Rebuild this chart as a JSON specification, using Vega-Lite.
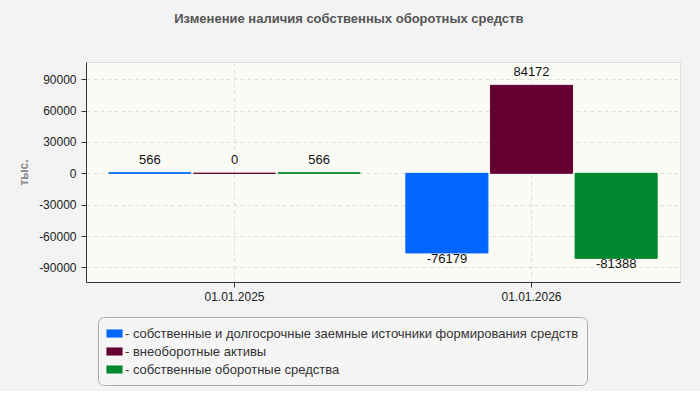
{
  "$schema": "https://vega.github.io/schema/vega-lite/v6.json",
  "width": 594,
  "height": 220,
  "padding": {"left": 17, "top": 13, "right": 20, "bottom": 5},
  "background": "#f3f3f3",
  "title": {
    "text": "Изменение наличия собственных оборотных средств",
    "anchor": "middle",
    "frame": "bounds",
    "font": "Liberation Sans",
    "fontSize": 13,
    "fontWeight": "bold",
    "color": "#555555",
    "offset": 36
  },
  "data": {
    "values": [
      {"date": "01.01.2025", "series": "собственные и долгосрочные заемные источники формирования средств", "value": 566},
      {"date": "01.01.2025", "series": "внеоборотные активы", "value": 0},
      {"date": "01.01.2025", "series": "собственные оборотные средства", "value": 566},
      {"date": "01.01.2026", "series": "собственные и долгосрочные заемные источники формирования средств", "value": -76179},
      {"date": "01.01.2026", "series": "внеоборотные активы", "value": 84172},
      {"date": "01.01.2026", "series": "собственные оборотные средства", "value": -81388}
    ]
  },
  "encoding": {
    "x": {
      "field": "date",
      "type": "nominal",
      "scale": {"paddingInner": 0, "paddingOuter": 0},
      "axis": {
        "title": null,
        "labelAngle": 0,
        "grid": true,
        "gridColor": "#dddddd",
        "gridDash": [4, 3],
        "domainColor": "#333333",
        "tickColor": "#333333",
        "labelFont": "Liberation Sans",
        "labelFontSize": 12,
        "labelColor": "#222222",
        "labelPadding": 4
      }
    },
    "xOffset": {
      "field": "series",
      "sort": [
        "собственные и долгосрочные заемные источники формирования средств",
        "внеоборотные активы",
        "собственные оборотные средства"
      ],
      "scale": {"paddingInner": 0.03, "paddingOuter": 0.27}
    },
    "y": {
      "field": "value",
      "type": "quantitative",
      "scale": {"domain": [-104000, 106500], "nice": false, "zero": false},
      "axis": {
        "title": "тыс.",
        "values": [-90000, -60000, -30000, 0, 30000, 60000, 90000],
        "labelExpr": "'' + datum.value",
        "grid": true,
        "gridColor": "#dddddd",
        "gridDash": [4, 3],
        "domainColor": "#333333",
        "tickColor": "#333333",
        "labelFont": "Liberation Sans",
        "labelFontSize": 12,
        "labelColor": "#222222",
        "labelPadding": 5,
        "titleFont": "Liberation Sans",
        "titleFontSize": 12,
        "titleFontWeight": "bold",
        "titleColor": "#888888",
        "titlePadding": 8
      }
    }
  },
  "layer": [
    {
      "mark": {"type": "bar", "strokeWidth": 1},
      "encoding": {
        "color": {
          "field": "series",
          "type": "nominal",
          "sort": [
            "собственные и долгосрочные заемные источники формирования средств",
            "внеоборотные активы",
            "собственные оборотные средства"
          ],
          "scale": {"range": ["#0066ff", "#660033", "#008830"]},
          "legend": {
            "orient": "none",
            "legendX": 12,
            "legendY": 255,
            "direction": "vertical",
            "title": null,
            "fillColor": "#f5f5f5",
            "strokeColor": "#aaaaaa",
            "cornerRadius": 6,
            "padding": 8,
            "labelFont": "Liberation Sans",
            "labelFontSize": 13,
            "labelColor": "#333333",
            "labelLimit": 600,
            "labelOffset": 2,
            "rowPadding": 2,
            "symbolType": "M-1,-0.5H1V0.5H-1Z",
            "symbolSize": 260,
            "symbolStrokeWidth": 0,
            "labelExpr": "'- ' + datum.label"
          }
        },
        "stroke": {
          "field": "series",
          "type": "nominal",
          "sort": [
            "собственные и долгосрочные заемные источники формирования средств",
            "внеоборотные активы",
            "собственные оборотные средства"
          ],
          "scale": {"range": ["#0066ff", "#660033", "#008830"]},
          "legend": null
        }
      }
    },
    {
      "transform": [{"filter": "datum.value >= 0"}],
      "mark": {"type": "text", "baseline": "bottom", "dy": -6, "font": "Liberation Sans", "fontSize": 13, "color": "#111111"},
      "encoding": {"text": {"field": "value", "type": "nominal"}}
    },
    {
      "transform": [{"filter": "datum.value < 0"}],
      "mark": {"type": "text", "baseline": "top", "dy": 0, "font": "Liberation Sans", "fontSize": 13, "color": "#111111"},
      "encoding": {"text": {"field": "value", "type": "nominal"}}
    }
  ],
  "config": {
    "view": {"stroke": "#dddddd", "fill": "#fbfbf6"}
  }
}
